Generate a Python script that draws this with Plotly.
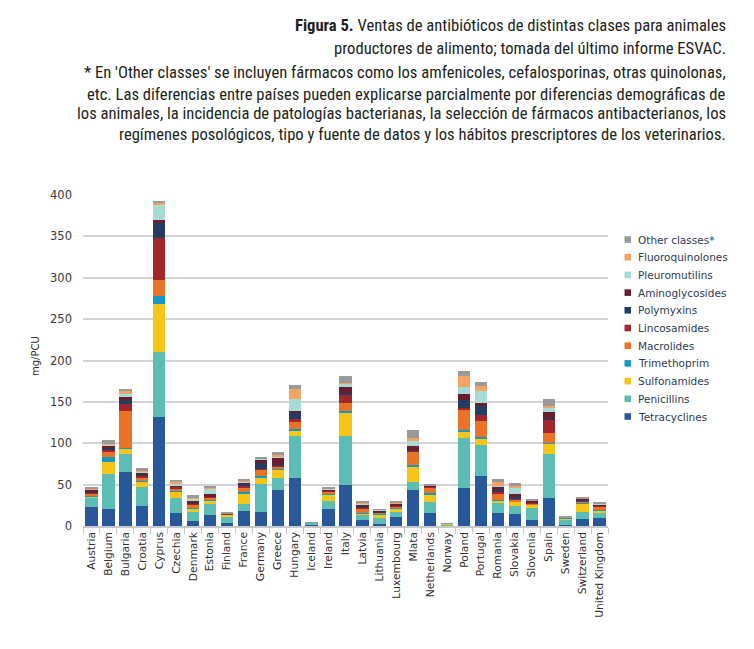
import plotly.graph_objects as go

countries = ["Austria", "Belgium", "Bulgaria", "Croatia", "Cyprus", "Czechia", "Denmark", "Estonia",
             "Finland", "France", "Germany", "Greece", "Hungary", "Iceland", "Ireland", "Italy",
             "Latvia", "Lithuania", "Luxembourg", "Mlata", "Netherlands", "Norway", "Poland",
             "Portugal", "Romania", "Slovakia", "Slovenia", "Spain", "Sweden", "Switzerland",
             "United Kingdom"]

tetracyclines = [22.5, 20.2, 65.6, 24.2, 131.3, 16.1, 6.5, 13.3, 3.2, 18.5, 17.3, 43.5, 57.6, 1.6, 20.2, 49.5,
                 7.3, 2.4, 11.3, 43.5, 16.1, 0.8, 45.5, 60.4, 15.3, 14.1, 7.3, 33.5, 0.8, 8.5, 10.0]
penicillins = [11.0, 42.6, 21.0, 23.3, 79.0, 17.4, 10.8, 13.3, 7.3, 8.1, 33.5, 14.9, 51.2, 2.4, 10.4, 59.3,
               6.0, 6.9, 6.0, 10.1, 13.3, 0.5, 60.5, 37.5, 12.9, 10.1, 14.9, 53.1, 6.5, 8.8, 6.9]
sulfonamides = [2.5, 14.9, 6.8, 6.1, 57.7, 8.0, 4.0, 4.8, 2.8, 12.9, 8.0, 9.3, 7.2, 0.0, 6.9, 28.2,
                2.0, 4.8, 4.0, 18.1, 8.1, 1.2, 7.2, 8.1, 3.2, 5.2, 3.2, 12.5, 1.6, 10.1, 2.4]
trimethoprim = [0.8, 5.3, 1.2, 0.8, 10.3, 1.0, 0.5, 0.5, 0.7, 1.0, 2.0, 1.0, 1.7, 0.0, 1.0, 1.4,
                0.5, 0.5, 0.8, 2.4, 2.0, 0.2, 2.8, 1.6, 0.5, 0.8, 0.5, 1.6, 0.8, 1.2, 0.5]
macrolides = [2.7, 6.8, 44.8, 4.0, 19.0, 3.0, 3.6, 2.0, 0.3, 6.2, 6.9, 3.0, 8.3, 0.0, 3.0, 9.8,
              5.5, 1.5, 1.5, 15.7, 7.2, 0.1, 24.2, 19.6, 6.8, 2.0, 1.0, 11.3, 0.3, 1.6, 3.6]
lincosamides = [1.5, 2.8, 8.0, 2.6, 51.1, 2.0, 2.0, 1.5, 0.2, 1.5, 1.6, 1.0, 2.9, 0.0, 1.0, 11.0,
                1.0, 0.8, 1.0, 1.0, 0.5, 0.0, 2.0, 6.9, 2.5, 1.0, 1.3, 16.9, 0.2, 0.8, 1.0]
polymyxins = [1.0, 1.5, 4.5, 1.0, 17.4, 0.7, 0.2, 0.5, 0.0, 3.0, 6.4, 1.0, 7.3, 0.0, 0.3, 2.0,
              0.3, 0.2, 0.5, 0.5, 0.5, 0.0, 10.1, 10.9, 2.0, 1.5, 0.2, 0.5, 0.0, 0.5, 0.2]
aminoglycosides = [1.5, 2.9, 5.1, 2.4, 4.0, 1.0, 3.0, 2.4, 0.3, 1.7, 4.1, 8.9, 2.8, 0.0, 1.5, 6.4,
                   2.8, 1.5, 1.5, 5.7, 1.0, 0.1, 6.9, 4.0, 4.3, 3.6, 2.0, 8.8, 0.3, 1.5, 1.6]
pleuromutilins = [0.8, 1.0, 2.2, 1.5, 18.2, 2.0, 2.9, 7.2, 0.2, 1.0, 1.2, 1.5, 14.5, 0.0, 0.5, 4.0,
                  2.0, 1.0, 1.0, 5.7, 0.3, 0.0, 9.2, 14.5, 1.0, 8.4, 0.5, 4.0, 0.1, 0.3, 0.8]
fluoroquinolones = [0.5, 1.0, 3.5, 1.0, 2.0, 2.0, 0.3, 0.3, 0.1, 1.0, 1.0, 1.5, 11.7, 0.0, 0.2, 1.5,
                    1.4, 0.3, 0.5, 3.3, 0.1, 0.0, 13.2, 6.0, 5.1, 1.5, 0.2, 2.8, 0.1, 0.3, 0.2]
other_classes = [1.5, 5.0, 3.3, 2.8, 2.7, 2.4, 3.7, 3.0, 1.2, 1.5, 1.0, 3.4, 5.2, 0.2, 1.7, 8.2,
                 1.4, 0.5, 1.5, 10.0, 0.5, 0.2, 5.7, 4.9, 3.2, 3.4, 1.9, 8.1, 0.8, 0.5, 2.2]

series_names = ["Tetracyclines", "Penicillins", "Sulfonamides", "Trimethoprim", "Macrolides",
                "Lincosamides", "Polymyxins", "Aminoglycosides", "Pleuromutilins",
                "Fluoroquinolones", "Other classes*"]
series_values = [tetracyclines, penicillins, sulfonamides, trimethoprim, macrolides, lincosamides,
                 polymyxins, aminoglycosides, pleuromutilins, fluoroquinolones, other_classes]
colors = ["#27589a", "#5bbdb4", "#f6c518", "#139ac4", "#ea7327", "#a2262a", "#233e62",
          "#6a1d2e", "#a5dcd5", "#f4a361", "#9a9a9c"]

y_ticks = [0, 50, 100, 150, 200, 250, 300, 350, 400]

fig = go.Figure()
for name, vals, col in zip(series_names, series_values, colors):
    fig.add_trace(go.Bar(x=countries, y=vals, name=name, showlegend=False,
                         marker=dict(color=col, line=dict(width=0))))

W, H = 754, 649
OFF = 8  # page body margin
PX0, PX1, PY0, PY1 = 83, 608, 195, 526
L = PX0 - OFF
T = PY0 - OFF
pw = PX1 - PX0
ph = PY1 - PY0
R = W - L - pw
B = H - T - ph

def px_x(px):
    return (px - PX0) / pw

def px_y(py):
    return (PY1 - py) / ph

text_font = "Liberation Sans Narrow, Roboto Condensed, Arial Narrow, Roboto, sans-serif"
lines = [
    ("<b>Figura 5.</b> Ventas de antibióticos de distintas clases para animales", 24),
    ("productores de alimento; tomada del último informe ESVAC.", 47),
    ("* En 'Other classes' se incluyen fármacos como los amfenicoles, cefalosporinas, otras quinolonas,", 72),
    ("etc. Las diferencias entre países pueden explicarse parcialmente por diferencias demográficas de", 93),
    ("los animales, la incidencia de patologías bacterianas, la selección de fármacos antibacterianos, los", 113),
    ("regímenes posológicos, tipo y fuente de datos y los hábitos prescriptores de los veterinarios.", 134),
]
annotations = []
shapes = []
for txt, py in lines:
    annotations.append(dict(text=txt, xref="paper", yref="paper", x=px_x(728), y=px_y(py + 1),
                            xanchor="right", yanchor="middle", showarrow=False, align="right",
                            font=dict(family=text_font, size=16.6, color="#231f20")))
annotations.append(dict(text="mg/PCU", xref="paper", yref="paper", x=px_x(35), y=px_y(356),
                        xanchor="center", yanchor="middle", showarrow=False, textangle=-90,
                        font=dict(family="DejaVu Sans, sans-serif", size=10, color="#333333")))

# legend drawn as swatches + labels (top entry = last series)
LEG_TOP, LEG_STEP = 239.5, 17.7
for i, (name, col) in enumerate(zip(reversed(series_names), reversed(colors))):
    cy = LEG_TOP + i * LEG_STEP
    shapes.append(dict(type="rect", xref="paper", yref="paper",
                       x0=px_x(624.5), x1=px_x(631), y0=px_y(cy + 3.3), y1=px_y(cy - 3.3),
                       fillcolor=col, line=dict(width=0)))
    annotations.append(dict(text=name, xref="paper", yref="paper", x=px_x(636), y=px_y(cy),
                            xanchor="left", yanchor="middle", showarrow=False,
                            font=dict(family="DejaVu Sans, sans-serif", size=10.5, color="#2d3b55")))

fig.update_layout(
    width=W, height=H,
    margin=dict(l=L, r=R, t=T, b=B, pad=0),
    barmode="stack",
    bargap=0.27,
    plot_bgcolor="white",
    paper_bgcolor="white",
    font=dict(family="DejaVu Sans, sans-serif", color="#333333"),
    showlegend=False,
    annotations=annotations,
    shapes=shapes,
)
fig.update_yaxes(range=[0, 400], tickvals=y_ticks, showgrid=True, gridcolor="#d4d4d4", gridwidth=1.5,
                 zeroline=False, ticks="", ticklabelstandoff=10,
                 tickfont=dict(size=11.5, color="#3a3a3a"))
fig.update_xaxes(tickangle=-90, showline=True, linecolor="#c8c8c8", linewidth=1.5,
                 ticks="outside", tickson="boundaries", ticklen=6, tickcolor="#c8c8c8",
                 tickfont=dict(size=10.7, color="#333333"), range=[-0.5, 30.5])

fig.write_html("out.html")
